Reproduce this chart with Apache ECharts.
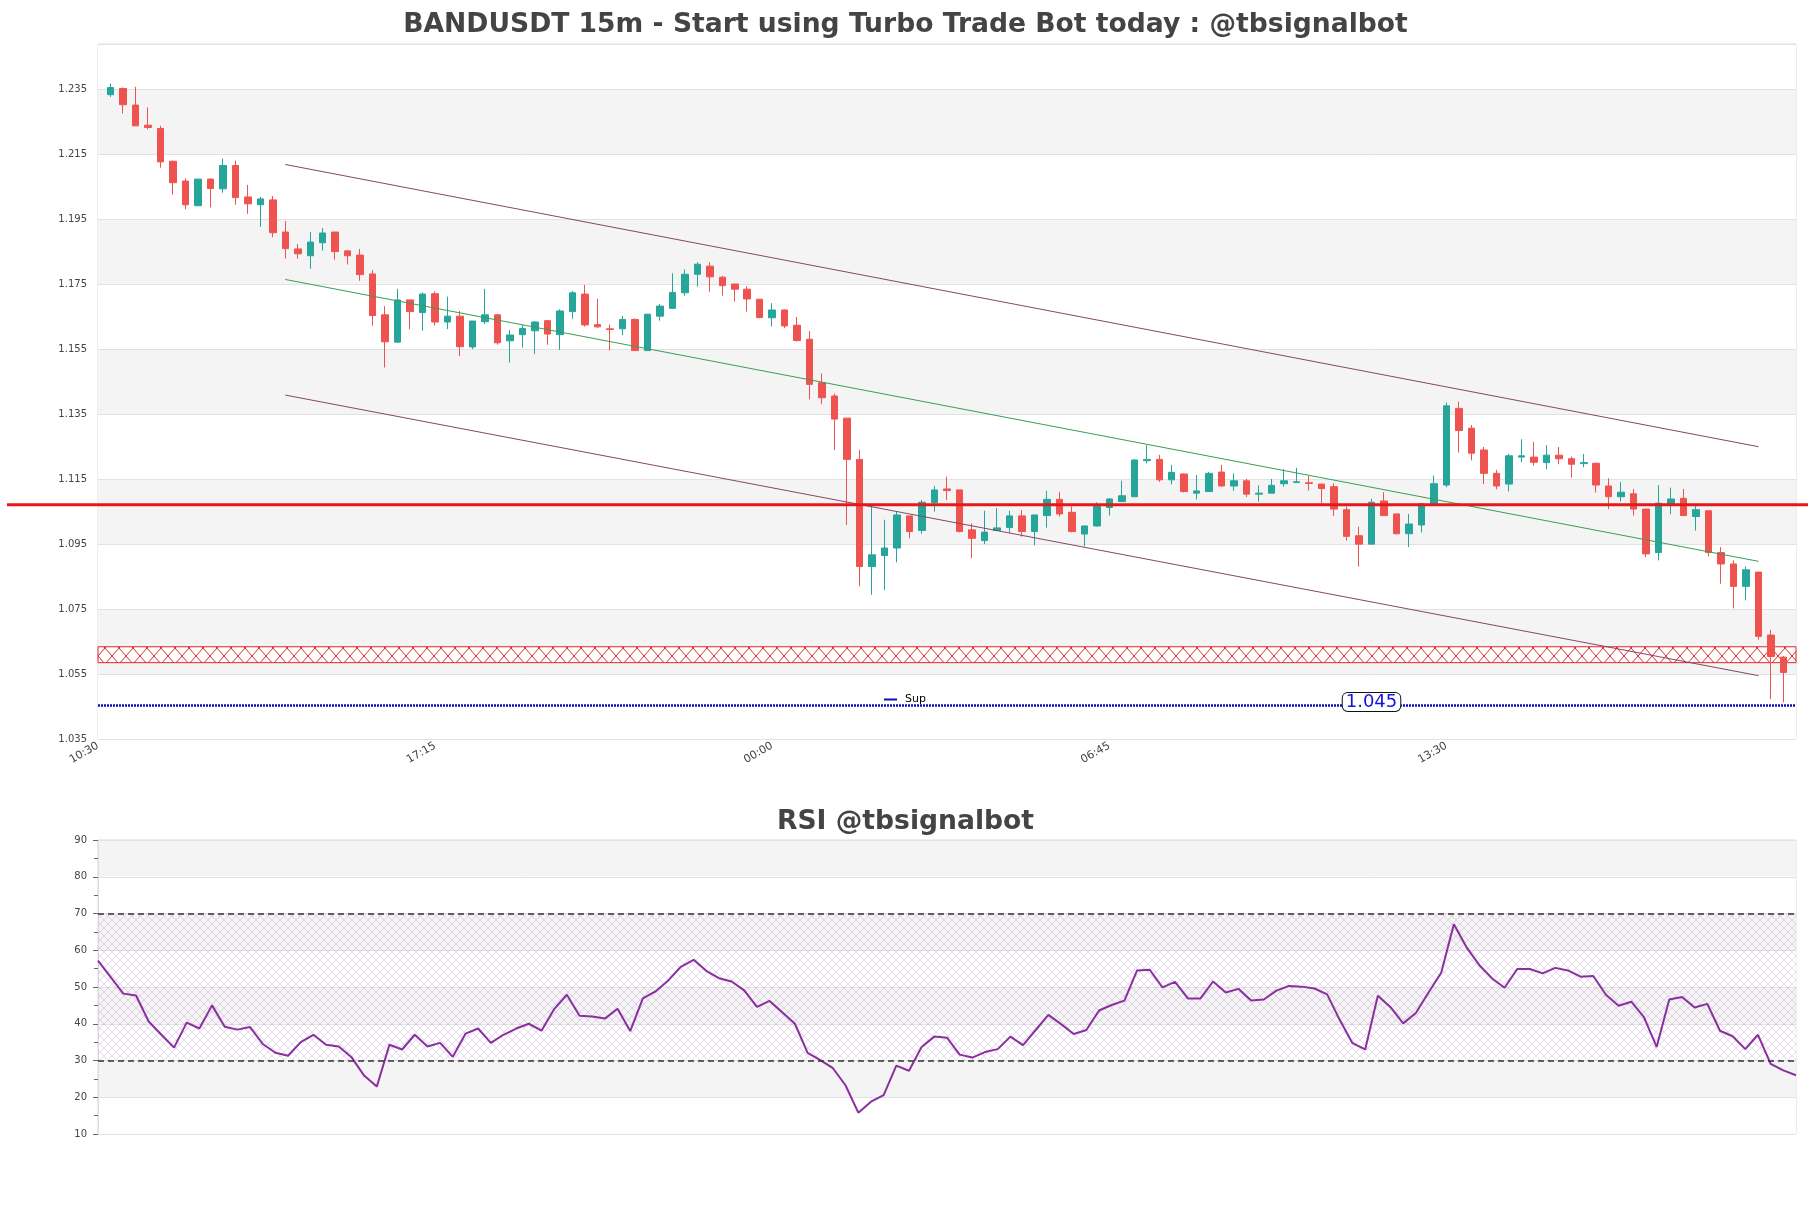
<!DOCTYPE html>
<html>
<head>
<meta charset="utf-8">
<title>BANDUSDT 15m</title>
<script src="https://cdn.jsdelivr.net/npm/echarts@6/dist/echarts.min.js"></script>
<style>
  html, body { margin: 0; padding: 0; background: #fff; }
  #chart { width: 1811px; height: 1208px; }
</style>
</head>
<body>
<div id="chart"></div>
<script>
// 15m candles, first one at 10:45 (axis starts at 10:30)
const opens = [1.2334,1.2353,1.2302,1.2240,1.2230,1.2129,1.2068,1.1992,1.2074,1.2044,
  1.2116,1.2019,1.1995,1.2010,1.1911,1.1859,1.1838,1.1878,1.1911,1.1853,
  1.1840,1.1782,1.1656,1.1572,1.1702,1.1663,1.1721,1.1634,1.1652,1.1557,
  1.1635,1.1656,1.1576,1.1595,1.1607,1.1638,1.1595,1.1666,1.1720,1.1626,
  1.1613,1.1613,1.1642,1.1546,1.1652,1.1676,1.1724,1.1781,1.1806,1.1772,
  1.1751,1.1735,1.1704,1.1647,1.1671,1.1624,1.1581,1.1447,1.1406,1.1338,
  1.1211,1.0881,1.0915,1.0938,1.1037,1.0992,1.1078,1.1120,1.1117,1.0994,
  1.0961,1.0992,1.1001,1.1037,1.0989,1.1038,1.1088,1.1048,1.0981,1.1006,
  1.1063,1.1081,1.1096,1.1207,1.1211,1.1148,1.1166,1.1107,1.1112,1.1172,
  1.1129,1.1145,1.1104,1.1107,1.1136,1.1140,1.1139,1.1135,1.1127,1.1056,
  1.0976,1.0950,1.1083,1.1043,1.0982,1.1009,1.1074,1.1132,1.1368,1.1307,
  1.1240,1.1168,1.1135,1.1218,1.1218,1.1201,1.1224,1.1213,1.1198,1.1199,
  1.1129,1.1096,1.1105,1.1058,1.0924,1.1073,1.1091,1.1035,1.1053,1.0924,
  1.0889,1.0820,1.0864,1.0670,1.0602];
const closes = [1.2356,1.2303,1.2238,1.2233,1.2127,1.2063,1.1995,1.2074,1.2045,1.2116,
  1.2017,1.1998,1.2013,1.1909,1.1860,1.1844,1.1880,1.1908,1.1851,1.1838,
  1.1780,1.1654,1.1573,1.1702,1.1666,1.1720,1.1634,1.1652,1.1558,1.1637,
  1.1656,1.1570,1.1594,1.1614,1.1634,1.1597,1.1668,1.1724,1.1625,1.1619,
  1.1611,1.1642,1.1546,1.1658,1.1683,1.1725,1.1781,1.1812,1.1773,1.1746,
  1.1735,1.1705,1.1648,1.1671,1.1622,1.1577,1.1442,1.1401,1.1335,1.1211,
  1.0881,1.0917,1.0938,1.1040,1.0989,1.1079,1.1117,1.1115,1.0989,1.0968,
  1.0987,1.1000,1.1037,1.0989,1.1040,1.1088,1.1043,1.0989,1.1006,1.1066,
  1.1089,1.1099,1.1209,1.1211,1.1148,1.1171,1.1112,1.1114,1.1168,1.1129,
  1.1145,1.1104,1.1107,1.1131,1.1145,1.1142,1.1137,1.1121,1.1058,1.0974,
  1.0950,1.1079,1.1038,1.0982,1.1012,1.1074,1.1136,1.1376,1.1300,1.1230,
  1.1168,1.1129,1.1222,1.1222,1.1202,1.1224,1.1213,1.1196,1.1201,1.1132,
  1.1096,1.1110,1.1058,1.0920,1.1076,1.1089,1.1038,1.1056,1.0924,1.0889,
  1.0820,1.0871,1.0666,1.0604,1.0555];
const lows = [1.2327,1.2276,1.2238,1.2227,1.2109,1.2026,1.1981,1.1992,1.1987,1.2032,
  1.1995,1.1967,1.1927,1.1895,1.1829,1.1829,1.1798,1.1854,1.1826,1.1811,
  1.1761,1.1623,1.1494,1.1570,1.1612,1.1607,1.1623,1.1612,1.1529,1.1550,
  1.1628,1.1564,1.1509,1.1555,1.1536,1.1564,1.1548,1.1644,1.1620,1.1616,
  1.1546,1.1593,1.1546,1.1546,1.1638,1.1676,1.1715,1.1743,1.1727,1.1715,
  1.1697,1.1666,1.1645,1.1620,1.1615,1.1574,1.1396,1.1381,1.1240,1.1009,
  1.0820,1.0794,1.0809,1.0894,1.0968,1.0982,1.1050,1.1086,1.0986,1.0907,
  1.0950,1.0992,1.0984,1.0973,1.0946,1.1001,1.1035,1.0986,1.0943,1.1004,
  1.1038,1.1081,1.1096,1.1199,1.1142,1.1134,1.1109,1.1088,1.1112,1.1127,
  1.1114,1.1095,1.1081,1.1107,1.1127,1.1140,1.1115,1.1076,1.1037,1.0961,
  1.0881,1.0950,1.1038,1.0980,1.0941,1.0986,1.1074,1.1125,1.1232,1.1208,
  1.1135,1.1119,1.1112,1.1202,1.1192,1.1181,1.1196,1.1155,1.1187,1.1109,
  1.1058,1.1081,1.1038,1.0910,1.0900,1.1042,1.1038,1.0992,1.0912,1.0828,
  1.0752,1.0777,1.0656,1.0473,1.0463];
const highs = [1.2368,1.2356,1.2358,1.2295,1.2238,1.2131,1.2076,1.2074,1.2076,1.2137,
  1.2131,1.2056,1.2019,1.2022,1.1945,1.1874,1.1911,1.1923,1.1911,1.1856,
  1.1859,1.1794,1.1683,1.1736,1.1702,1.1725,1.1728,1.1712,1.1668,1.1637,
  1.1736,1.1659,1.1609,1.1625,1.1636,1.1640,1.1673,1.1730,1.1748,1.1705,
  1.1626,1.1652,1.1645,1.1659,1.1689,1.1784,1.1796,1.1818,1.1818,1.1776,
  1.1752,1.1744,1.1704,1.1692,1.1673,1.1650,1.1606,1.1476,1.1414,1.1338,
  1.1240,1.1071,1.1025,1.1050,1.1037,1.1086,1.1129,1.1158,1.1117,1.1014,
  1.1053,1.1061,1.1053,1.1055,1.1040,1.1114,1.1111,1.1066,1.1006,1.1079,
  1.1092,1.1145,1.1211,1.1255,1.1225,1.1194,1.1168,1.1163,1.1172,1.1194,
  1.1168,1.1151,1.1131,1.1151,1.1181,1.1185,1.1160,1.1135,1.1137,1.1066,
  1.1004,1.1090,1.1110,1.1043,1.1043,1.1074,1.1161,1.1386,1.1389,1.1317,
  1.1249,1.1179,1.1228,1.1273,1.1265,1.1255,1.1249,1.1220,1.1228,1.1201,
  1.1153,1.1141,1.1120,1.1058,1.1132,1.1124,1.1120,1.1073,1.1053,1.0941,
  1.0900,1.0881,1.0864,1.0686,1.0606];

const rsi = [57.2,52.7,48.2,47.7,40.6,37.0,33.5,40.3,38.7,45.0,
  39.2,38.4,39.1,34.5,32.1,31.3,35.0,37.0,34.3,33.8,
  30.9,25.9,22.9,34.3,33.0,37.0,33.8,34.8,31.0,37.3,
  38.7,34.8,37.0,38.7,40.0,38.1,44.0,47.9,42.2,42.0,
  41.4,44.1,38.0,46.9,48.8,51.8,55.5,57.4,54.4,52.4,
  51.5,49.1,44.6,46.2,43.1,40.0,32.1,30.1,27.9,23.2,
  15.8,18.8,20.6,28.6,27.2,33.7,36.5,36.2,31.6,30.8,
  32.3,33.1,36.5,34.2,38.3,42.4,39.9,37.2,38.3,43.6,
  45.1,46.3,54.5,54.7,49.9,51.4,46.9,46.9,51.5,48.5,
  49.5,46.3,46.6,49.0,50.3,50.1,49.6,48.0,41.0,34.7,
  33.0,47.6,44.5,40.1,42.9,48.5,53.9,67.1,60.8,56.0,
  52.4,49.8,54.9,54.9,53.7,55.2,54.5,52.8,53.0,47.9,
  44.9,46.0,41.8,33.7,46.6,47.3,44.4,45.4,38.1,36.6,
  33.1,37.0,29.1,27.3,26.0];

// trend channel (candle index -> price)
const channelIdx = [14, 132];
const upperChannel = [1.2119, 1.1250];
const midChannel = [1.1765, 1.0897];
const lowerChannel = [1.1409, 1.0545];

const resistLevel = 1.1071;
const zoneLow = 1.0585, zoneHigh = 1.0634;
const supLevel = 1.0455;
const supLabel = '1.045';
const supLabelIdx = 101;

const priceTicks = { min: 1.035, max: 1.249, step: 0.02 };
const startMinutes = 10 * 60 + 30;

// one empty slot each side, like the matplotlib x limits
const times = [];
for (let k = 0; k < opens.length + 2; k++) {
  const m = (startMinutes + k * 15) % 1440;
  times.push(String(Math.floor(m / 60)).padStart(2, '0') + ':' + String(m % 60).padStart(2, '0'));
}
const rsiTimes = times.slice(1, opens.length + 1);

const candleData = ['-'].concat(opens.map((o, i) => [o, closes[i], lows[i], highs[i]])).concat(['-']);
const seg = (v) => [[channelIdx[0] + 1, v[0]], [channelIdx[1] + 1, v[1]]];

function hatch(w, h, color, bg, lw) {
  const c = document.createElement('canvas');
  c.width = w; c.height = h;
  const g = c.getContext('2d');
  if (bg) { g.fillStyle = bg; g.fillRect(0, 0, w, h); }
  g.strokeStyle = color; g.lineWidth = lw;
  g.beginPath();
  g.moveTo(0, 0); g.lineTo(w, h);
  g.moveTo(w, 0); g.lineTo(0, h);
  g.stroke();
  return c;
}

const chart = echarts.init(document.getElementById('chart'));
const font = 'DejaVu Sans';

const option = {
  animation: false,
  backgroundColor: '#fff',
  textStyle: { fontFamily: font },
  title: [
    { text: 'BANDUSDT 15m - Start using Turbo Trade Bot today : @tbsignalbot', left: 'center', top: 7,
      textStyle: { fontSize: 26.6, fontWeight: 'bold', color: '#444', fontFamily: font } },
    { text: 'RSI @tbsignalbot', left: 'center', top: 804,
      textStyle: { fontSize: 26.6, fontWeight: 'bold', color: '#444', fontFamily: font } }
  ],
  legend: {
    data: ['Sup'], left: 879, top: 689, backgroundColor: '#fff', padding: [5, 8, 5, 5],
    icon: 'rect', itemWidth: 13, itemHeight: 2, itemGap: 6,
    textStyle: { fontSize: 11, color: '#000', fontFamily: font, padding: [0, 0, 0, 3] }
  },
  grid: [
    { left: 98, right: 15, top: 44, height: 695, show: true, borderColor: '#dcdcdc', borderWidth: 1 },
    { left: 98, right: 15, top: 840, height: 294, show: true, borderColor: '#dcdcdc', borderWidth: 1 }
  ],
  xAxis: [
    { type: 'category', gridIndex: 0, data: times, boundaryGap: false,
      axisLine: { show: false }, axisTick: { show: false }, splitLine: { show: false },
      axisLabel: { interval: (i) => i % 27 === 0 && i <= 108, rotate: 30, fontSize: 11, color: '#444', margin: 6 } },
    { type: 'category', gridIndex: 1, data: rsiTimes, boundaryGap: false,
      axisLine: { show: false }, axisTick: { show: false }, axisLabel: { show: false }, splitLine: { show: false } }
  ],
  yAxis: [
    { type: 'value', gridIndex: 0, min: priceTicks.min, max: priceTicks.max, interval: priceTicks.step,
      axisLine: { show: false }, axisTick: { show: false },
      axisLabel: { fontSize: 10, color: '#444', margin: 11, showMaxLabel: false, formatter: (v) => v.toFixed(3) },
      splitLine: { lineStyle: { color: '#e2e2e2' } },
      splitArea: { show: true, areaStyle: { color: ['#ffffff', '#f4f4f4'] } } },
    { type: 'value', gridIndex: 1, min: 10, max: 90, interval: 10,
      axisLine: { show: true, lineStyle: { color: '#dcdcdc' } },
      axisTick: { show: true, length: 5, lineStyle: { color: '#666' } },
      minorTick: { show: true, splitNumber: 2, length: 4, lineStyle: { color: '#666' } },
      axisLabel: { fontSize: 10, color: '#444', margin: 11 },
      splitLine: { lineStyle: { color: '#e2e2e2' } },
      splitArea: { show: true, areaStyle: { color: ['#ffffff', '#f4f4f4'] } } }
  ],
  series: [
    { name: 'BANDUSDT', type: 'candlestick', xAxisIndex: 0, yAxisIndex: 0, data: candleData, barWidth: 7,
      itemStyle: { color: '#26a69a', color0: '#ef5350', borderColor: '#26a69a', borderColor0: '#ef5350', borderWidth: 1 },
      markArea: {
        silent: true,
        itemStyle: { color: { image: hatch(14, 16, '#e0282a', '#ffffff', 1), repeat: 'repeat' }, borderColor: '#e0282a', borderWidth: 1 },
        data: [[{ yAxis: zoneLow }, { yAxis: zoneHigh }]]
      } },
    { name: 'upper', type: 'line', data: seg(upperChannel), symbol: 'none', silent: true,
      lineStyle: { color: '#86466a', width: 1 } },
    { name: 'mid', type: 'line', data: seg(midChannel), symbol: 'none', silent: true,
      lineStyle: { color: '#3a9e55', width: 1 } },
    { name: 'lower', type: 'line', data: seg(lowerChannel), symbol: 'none', silent: true,
      lineStyle: { color: '#86466a', width: 1 } },
    { name: 'Sup', type: 'line', data: [], color: '#0d0dbf', symbol: 'none',
      markLine: { silent: true, precision: 4, symbol: ['none', 'none'], label: { show: false },
        lineStyle: { type: [2, 1], width: 2.5, color: '#0d0dbf' }, data: [{ yAxis: supLevel }] },
      markPoint: { silent: true, symbol: 'circle', symbolSize: 1, itemStyle: { color: 'transparent' },
        label: { show: true, formatter: supLabel, color: '#1414d8', fontSize: 18, fontFamily: font,
          backgroundColor: '#fff', borderColor: '#111', borderWidth: 1, borderRadius: 5, padding: [0, 3], offset: [0, -3] },
        data: [{ coord: [supLabelIdx + 1, supLevel] }] } },
    { name: 'RSI', type: 'line', xAxisIndex: 1, yAxisIndex: 1, data: rsi, symbol: 'none',
      lineStyle: { color: '#8b2fa0', width: 2 }, itemStyle: { color: '#8b2fa0' },
      markLine: { silent: true, precision: 2, symbol: ['none', 'none'], label: { show: false },
        lineStyle: { type: [6, 4], width: 1.5, color: '#333' }, data: [{ yAxis: 70 }, { yAxis: 30 }] },
      markArea: { silent: true,
        itemStyle: { color: { image: hatch(8, 8, 'rgba(150,90,175,0.22)', null, 1), repeat: 'repeat' } },
        data: [[{ yAxis: 30 }, { yAxis: 70 }]] } }
  ]
};

chart.setOption(option);

// resistance line runs across the whole figure
const ry = chart.convertToPixel({ yAxisIndex: 0 }, resistLevel);
chart.setOption({
  graphic: [{ type: 'line', z: 10, silent: true,
    shape: { x1: 7, y1: ry, x2: 1808, y2: ry },
    style: { stroke: '#e3191b', lineWidth: 3 } }]
});
</script>
</body>
</html>
